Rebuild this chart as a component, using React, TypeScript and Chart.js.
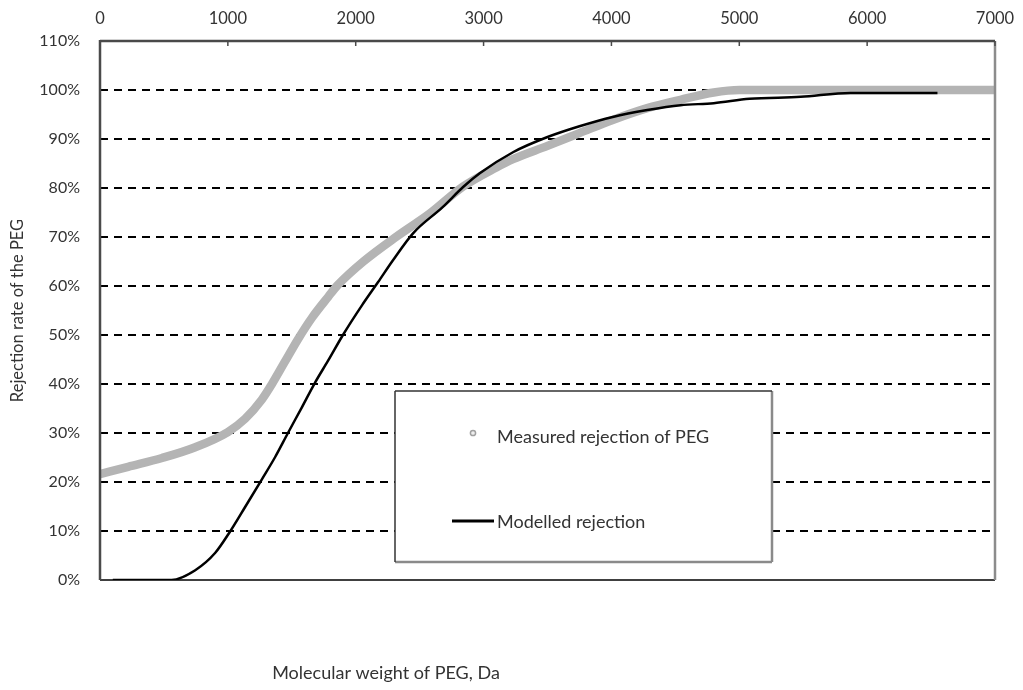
import React, { useEffect, useRef } from "react";
import { Chart, registerables } from "chart.js";

Chart.register(...registerables);

// Molecular weight (Da) and rejection (%) of the measured PEG curve
const measuredMw = [0, 220, 485, 745, 1000, 1135, 1265, 1345, 1445, 1550, 1660, 1785, 1860, 2060, 2320, 2580, 2840, 3100, 3230, 3500, 3750, 4010, 4280, 4540, 4800, 5000, 5500, 6000, 6500, 7000];
const measuredRejection = [21.6, 23.1, 24.9, 27.1, 30.2, 32.9, 36.8, 40.0, 44.5, 49.2, 53.6, 57.8, 60.2, 65.0, 70.1, 74.8, 80.3, 84.2, 85.9, 88.6, 91.2, 93.9, 96.3, 98.0, 99.5, 100, 100, 100, 100, 100];

// Modelled rejection curve
const modelMw = [100, 560, 745, 900, 1015, 1135, 1265, 1370, 1470, 1580, 1680, 1785, 1900, 2050, 2175, 2290, 2450, 2680, 2840, 2970, 3230, 3500, 3750, 4010, 4280, 4540, 4800, 5080, 5480, 5870, 6550];
const modelRejection = [0, 0, 2.0, 5.5, 9.8, 14.9, 20.5, 25.1, 30.0, 35.3, 40.2, 44.8, 50.0, 56.1, 60.8, 65.2, 70.8, 76.1, 80.2, 83.0, 87.3, 90.4, 92.6, 94.5, 95.9, 96.9, 97.3, 98.2, 98.6, 99.4, 99.4];

const xTickValues = [0, 1000, 2000, 3000, 4000, 5000, 6000, 7000];
const yTickValues = [0, 10, 20, 30, 40, 50, 60, 70, 80, 90, 100, 110];

const seriesLabels = ["Measured rejection of PEG", "Modelled rejection"];
const xTitle = "Molecular weight of PEG, Da";
const yTitle = "Rejection rate of the PEG";

const FONT = "Lato";
const TEXT = "#333333";
const MEASURED_COLOR = "#b4b4b4";

function line(ctx: CanvasRenderingContext2D, x1: number, y1: number, x2: number, y2: number) {
  ctx.beginPath();
  ctx.moveTo(x1, y1);
  ctx.lineTo(x2, y2);
  ctx.stroke();
}

// Plot frame, zero line and inward tick marks on the top axis
const framePlugin = {
  id: "frame",
  afterDatasetsDraw(chart: any) {
    const { ctx, chartArea, scales } = chart;
    const { left, right, top, bottom } = chartArea;
    ctx.save();
    ctx.strokeStyle = "#000";
    ctx.lineWidth = 1.5;
    line(ctx, left, bottom, right, bottom);
    ctx.strokeStyle = "#8c8c8c";
    ctx.lineWidth = 2.5;
    line(ctx, right, top, right, bottom);
    ctx.strokeStyle = "#4a4a4a";
    ctx.lineWidth = 2.5;
    line(ctx, left, top, right, top);
    line(ctx, left, top - 1, left, bottom);
    ctx.lineWidth = 1.5;
    for (const v of xTickValues) {
      const x = scales.x.getPixelForValue(v);
      line(ctx, x, top, x, top + 5);
    }
    ctx.restore();
  },
};

// Boxed legend inside the plot, plus the x-axis title below the plot
const legendPlugin = {
  id: "boxLegend",
  afterDraw(chart: any) {
    const { ctx } = chart;
    const bx = 395, by = 391, bw = 377, bh = 171;
    ctx.save();
    ctx.fillStyle = "#fff";
    ctx.fillRect(bx, by, bw, bh);
    ctx.strokeStyle = "#8a8a8a";
    ctx.lineWidth = 2.5;
    line(ctx, bx + bw, by, bx + bw, by + bh);
    line(ctx, bx, by + bh, bx + bw, by + bh);
    ctx.strokeStyle = "#333";
    ctx.lineWidth = 1.5;
    line(ctx, bx, by, bx + bw, by);
    line(ctx, bx, by, bx, by + bh);

    // measured marker
    ctx.beginPath();
    ctx.arc(473, 433, 2.6, 0, Math.PI * 2);
    ctx.fillStyle = "#eeeeee";
    ctx.fill();
    ctx.strokeStyle = "#a0a0a0";
    ctx.lineWidth = 1.5;
    ctx.stroke();

    // modelled line sample
    ctx.strokeStyle = "#000";
    ctx.lineWidth = 3;
    line(ctx, 452, 521, 494, 521);

    ctx.fillStyle = TEXT;
    ctx.font = `18px ${FONT}`;
    ctx.textAlign = "left";
    ctx.textBaseline = "middle";
    ctx.fillText(chart.data.datasets[0].label, 497, 437);
    ctx.fillText(chart.data.datasets[1].label, 497, 522);

    ctx.textAlign = "center";
    ctx.fillText(xTitle, 386, 673);
    ctx.restore();
  },
};

export default function App() {
  const canvasRef = useRef<HTMLCanvasElement | null>(null);

  useEffect(() => {
    const canvas = canvasRef.current;
    if (!canvas) return;
    const chart = new Chart(canvas, {
      type: "line",
      data: {
        datasets: [
          {
            label: seriesLabels[0],
            data: measuredMw.map((x, i) => ({ x, y: measuredRejection[i] })),
            borderColor: MEASURED_COLOR,
            backgroundColor: MEASURED_COLOR,
            borderWidth: 8.5,
            pointRadius: 0,
            cubicInterpolationMode: "monotone",
            order: 2,
          },
          {
            label: seriesLabels[1],
            data: modelMw.map((x, i) => ({ x, y: modelRejection[i] })),
            borderColor: "#000",
            backgroundColor: "#000",
            borderWidth: 2.5,
            pointRadius: 0,
            cubicInterpolationMode: "monotone",
            order: 1,
          },
        ],
      },
      options: {
        responsive: false,
        animation: false,
        devicePixelRatio: 1,
        layout: { padding: { left: 0, right: 28, top: 0, bottom: 110 } },
        plugins: {
          legend: { display: false },
          tooltip: { enabled: false },
        },
        scales: {
          x: {
            type: "linear",
            position: "top",
            min: 0,
            max: 7000,
            afterBuildTicks: (scale: any) => {
              scale.ticks = xTickValues.map((value) => ({ value }));
            },
            afterFit: (scale: any) => {
              scale.height = 41;
              scale.paddingLeft = 0;
              scale.paddingRight = 0;
            },
            grid: { display: false, drawTicks: false },
            border: { display: false },
            ticks: {
              color: TEXT,
              font: { family: FONT, size: 16.5 },
              padding: 12,
              maxRotation: 0,
              autoSkip: false,
              callback: (v: any) => String(v),
            },
          },
          y: {
            type: "linear",
            min: 0,
            max: 110,
            afterBuildTicks: (scale: any) => {
              scale.ticks = yTickValues.map((value) => ({ value }));
            },
            afterFit: (scale: any) => {
              scale.width = 100;
            },
            grid: {
              drawTicks: false,
              lineWidth: 2,
              color: (c: any) =>
                c.tick && c.tick.value > 0 && c.tick.value < 110 ? "#000" : "rgba(0,0,0,0)",
            },
            border: { display: false, dash: [8, 6] },
            ticks: {
              color: TEXT,
              font: { family: FONT, size: 16 },
              padding: 20,
              autoSkip: false,
              callback: (v: any) => `${v}%`,
            },
            title: {
              display: true,
              text: yTitle,
              color: TEXT,
              font: { family: FONT, size: 16.5 },
              padding: { top: 8, bottom: 0 },
            },
          },
        },
      },
      plugins: [framePlugin, legendPlugin],
    });
    return () => chart.destroy();
  }, []);

  return (
    <div style={{ position: "fixed", left: 0, top: 0, width: 1023, height: 690, background: "#fff" }}>
      <canvas ref={canvasRef} width={1023} height={690} />
    </div>
  );
}
